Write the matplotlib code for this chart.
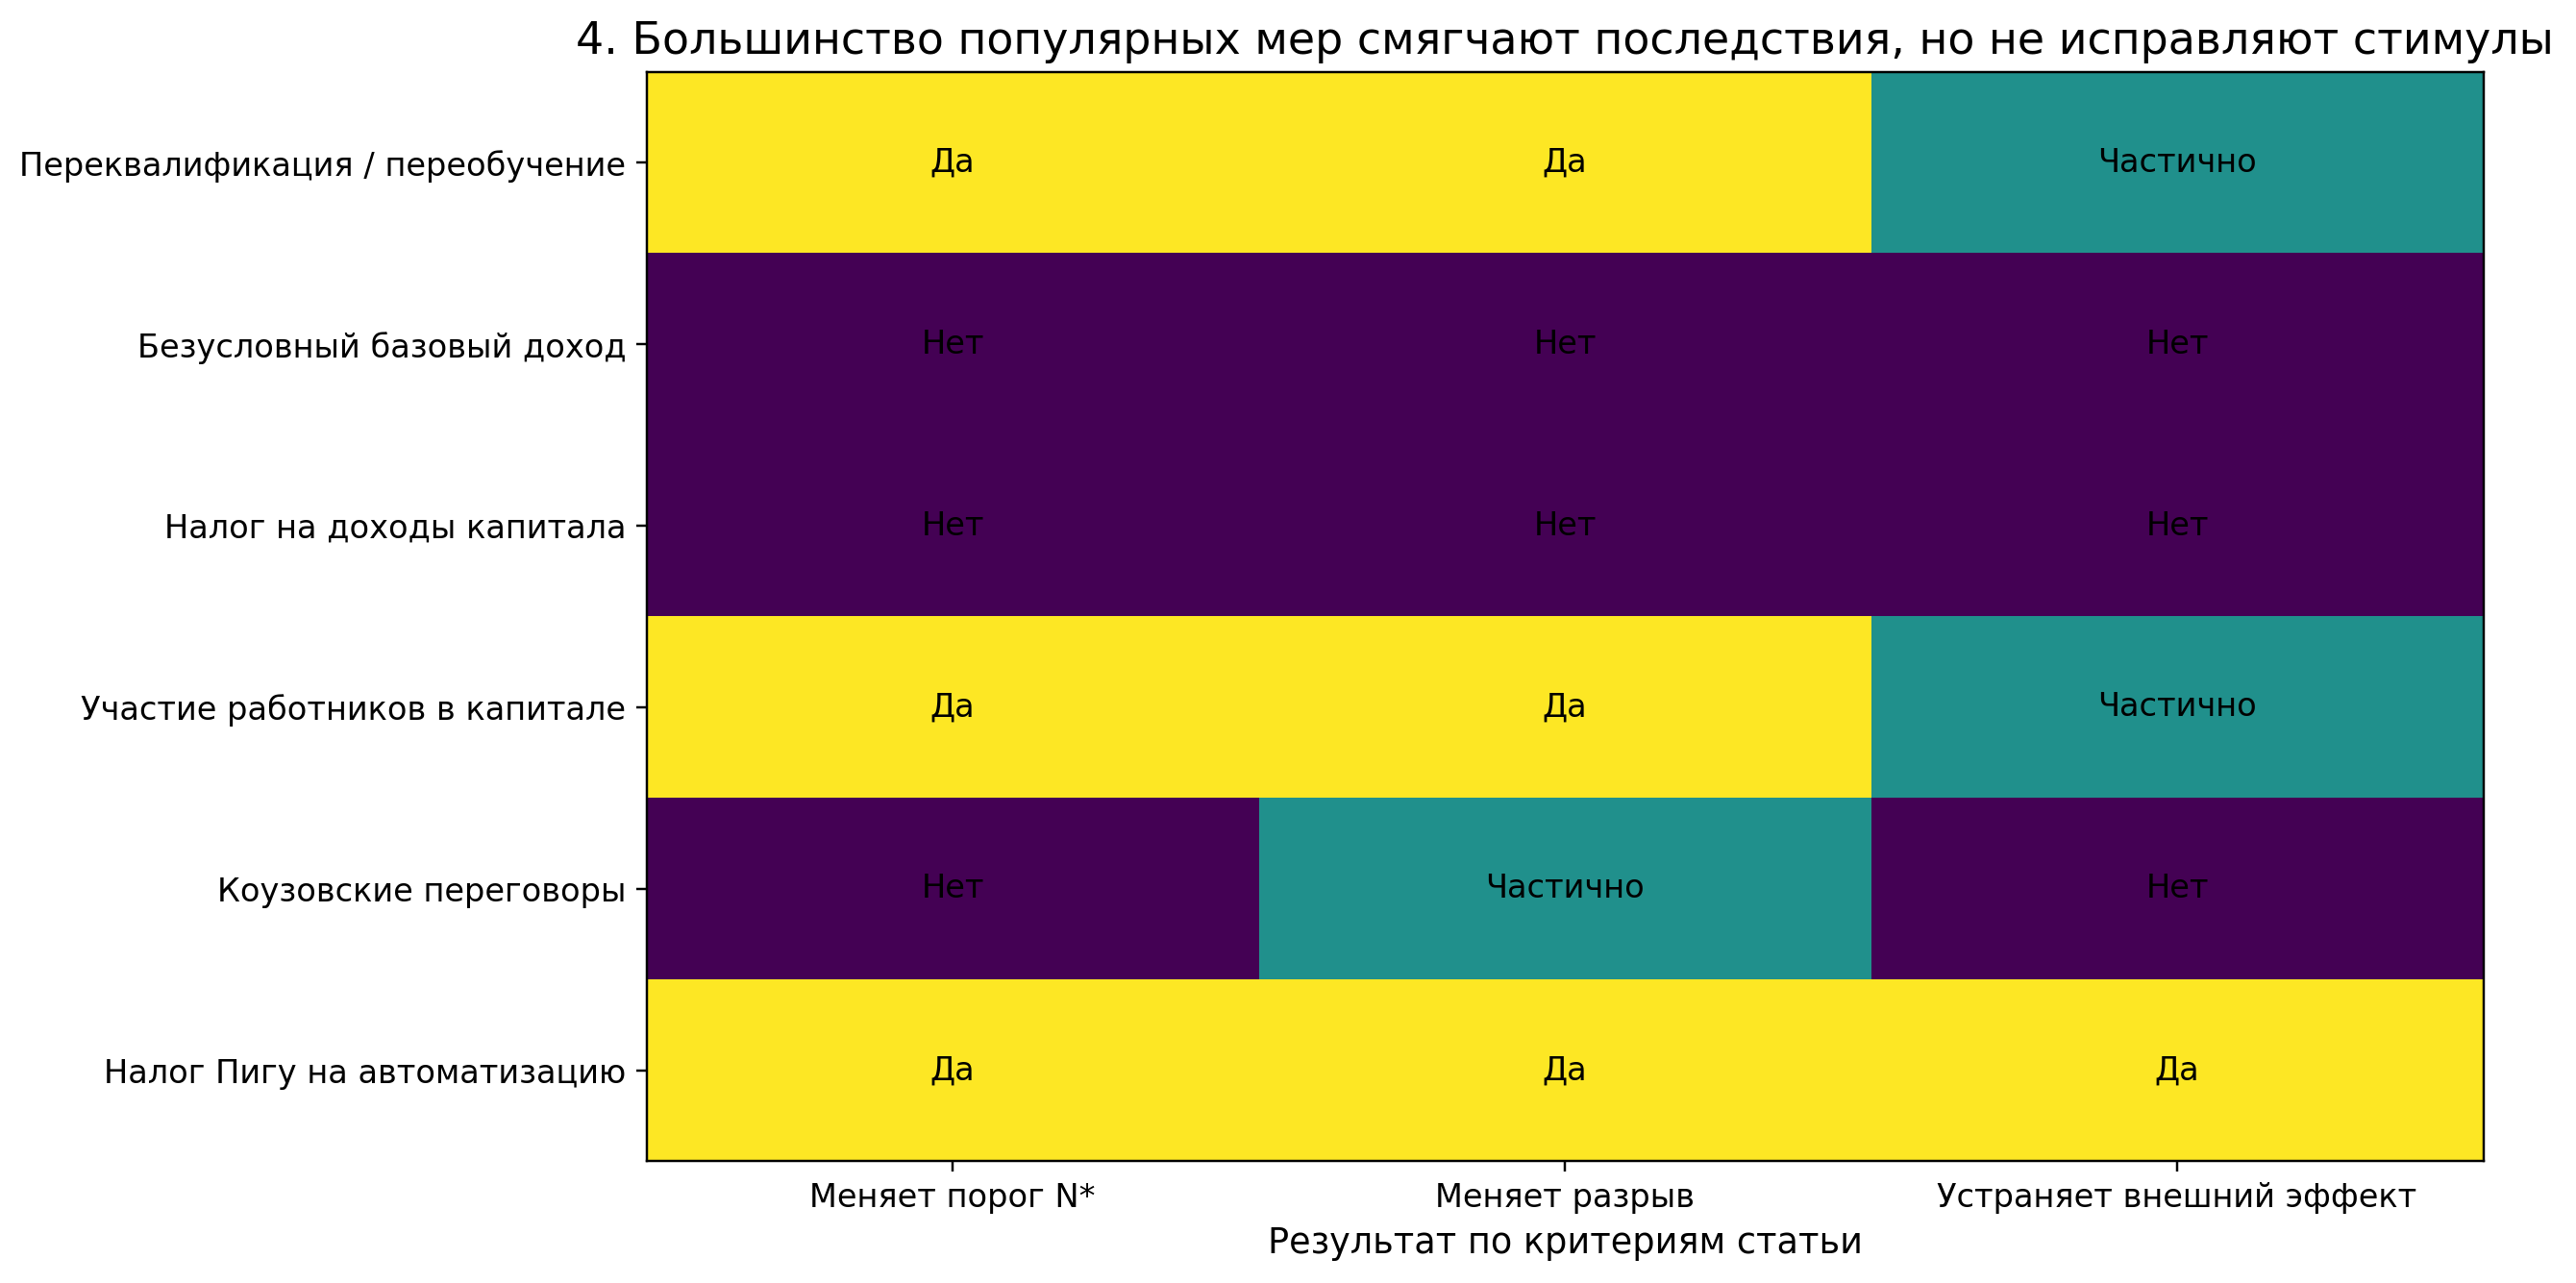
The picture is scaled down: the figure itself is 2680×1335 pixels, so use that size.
import numpy as np
import matplotlib
matplotlib.use("Agg")
import matplotlib.pyplot as plt

measures = [
    "Переквалификация / переобучение",
    "Безусловный базовый доход",
    "Налог на доходы капитала",
    "Участие работников в капитале",
    "Коузовские переговоры",
    "Налог Пигу на автоматизацию",
]
criteria = ["Меняет порог N*", "Меняет разрыв", "Устраняет внешний эффект"]

# 1 = Да, 0.5 = Частично, 0 = Нет
scores = np.array([
    [1.0, 1.0, 0.5],
    [0.0, 0.0, 0.0],
    [0.0, 0.0, 0.0],
    [1.0, 1.0, 0.5],
    [0.0, 0.5, 0.0],
    [1.0, 1.0, 1.0],
])
answer = {1.0: "Да", 0.5: "Частично", 0.0: "Нет"}

DPI = 220
fig = plt.figure(figsize=(2680 / DPI, 1335 / DPI), dpi=DPI)
ax = fig.add_axes([0.251, 0.095, 0.713, 0.849])

ax.imshow(scores, cmap="viridis", aspect="auto", vmin=0, vmax=1)

for i in range(scores.shape[0]):
    for j in range(scores.shape[1]):
        ax.text(j, i, answer[scores[i, j]], ha="center", va="center", fontsize=11)

ax.set_xticks(range(len(criteria)))
ax.set_xticklabels(criteria, fontsize=11)
ax.set_yticks(range(len(measures)))
ax.set_yticklabels(measures, fontsize=11)
ax.set_xlabel("Результат по критериям статьи", fontsize=12)
ax.set_title("4. Большинство популярных мер смягчают последствия, но не исправляют стимулы", fontsize=15)

fig.savefig("out.png", dpi=DPI)
